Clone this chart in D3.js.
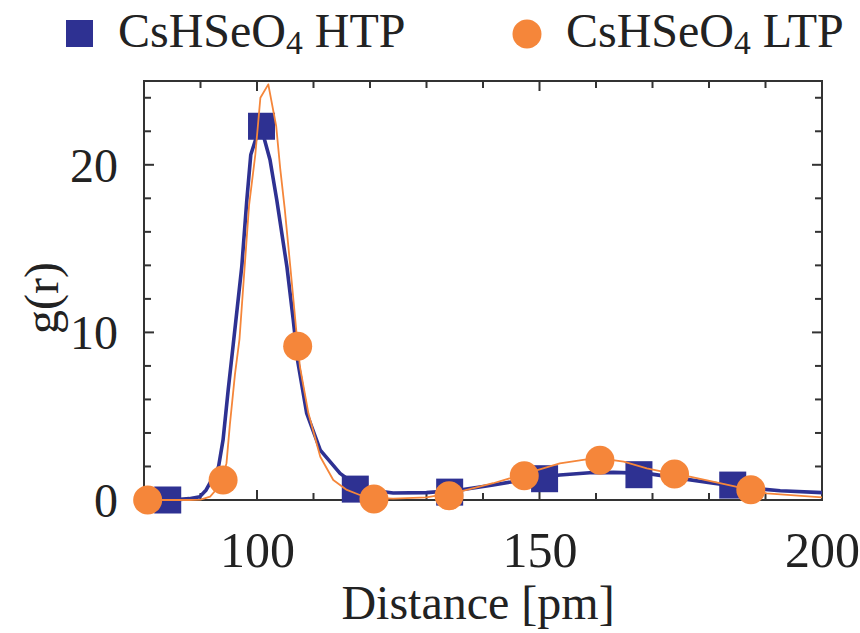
<!DOCTYPE html>
<html>
<head>
<meta charset="utf-8">
<script src="https://cdn.jsdelivr.net/npm/d3@7"></script>
<style>
  html, body { margin: 0; padding: 0; background: #fff; }
  svg { display: block; }
  text { font-family: "Liberation Serif", "DejaVu Serif", serif; fill: #222; }
</style>
</head>
<body>
<svg id="chart" width="860" height="633"></svg>
<script>
// ---- data ----
const seriesNames = ["CsHSeO4 HTP", "CsHSeO4 LTP"];

// HTP (blue) curve
const htpLineX = [80, 84, 86.4, 88, 89.9, 91, 92.3, 93.2, 94.0, 94.9, 95.8, 97.3, 98.2, 98.9, 100.6, 102.3, 103.5, 105.3, 106.4, 107.2, 108.8, 111.2, 114.7, 117.5, 120, 124.1, 130, 135.9, 141.8, 147.7, 153.6, 158.9, 163.1, 169.0, 174.9, 180.8, 186.7, 192.6, 200];
const htpLineY = [0, 0, 0.04, 0.08, 0.2, 0.6, 1.39, 2.0, 3.6, 6.56, 9.3, 13.9, 17.9, 20.6, 22.4, 20.3, 17.9, 13.9, 10.8, 8.3, 5.17, 2.98, 1.59, 0.9, 0.6, 0.42, 0.44, 0.6, 0.9, 1.23, 1.49, 1.63, 1.65, 1.59, 1.29, 1.0, 0.73, 0.55, 0.44];
// HTP markers
const htpPointX = [84.2, 100.8, 117.4, 134.1, 150.9, 167.6, 184.2];
const htpPointY = [0.0, 22.3, 0.65, 0.47, 1.27, 1.51, 0.89];

// LTP (orange) curve
const ltpLineX = [80, 88, 90, 91.7, 93.0, 94.0, 94.6, 95.2, 96.1, 96.9, 97.6, 98.6, 99.7, 100.6, 102.0, 103.4, 104.1, 104.9, 105.9, 107.0, 107.6, 109.1, 111.2, 113.5, 115.9, 118.2, 121, 124.1, 130, 135.9, 141.8, 147.7, 153.6, 158.9, 161, 164.9, 169.0, 173.9, 176.6, 181.9, 187.4, 190.2, 200];
const ltpLineY = [0, 0, 0.02, 0.2, 0.7, 1.4, 2.2, 4.5, 7.5, 9.6, 12.9, 17.6, 20.6, 24.0, 24.8, 22.3, 19.8, 17.4, 13.9, 9.95, 7.95, 5.17, 2.58, 1.19, 0.6, 0.3, 0.12, 0.08, 0.16, 0.5, 1.0, 1.59, 2.19, 2.45, 2.47, 2.29, 1.89, 1.55, 1.39, 1.0, 0.61, 0.4, 0.16];
// LTP markers
const ltpPointX = [80.65, 94.0, 107.2, 120.7, 134.0, 147.3, 160.7, 173.9, 187.4];
const ltpPointY = [0.0, 1.19, 9.18, 0.06, 0.25, 1.44, 2.37, 1.55, 0.61];

const xTickLabels = [100, 150, 200];
const yTickLabels = [0, 10, 20];
const xLabel = "Distance [pm]";
const yLabel = "g(r)";

// ---- layout ----
const colors = { htp: "#2e3192", ltp: "#f5863a" };
const L = 144, R = 822, T = 81, B = 500;
const svg = d3.select("#chart");
const x = d3.scaleLinear().domain([80, 200]).range([L, R]);
const y = d3.scaleLinear().domain([0, 25]).range([B, T]);
const FS = 48;
const TFS = 50;

// frame
const axisColor = "#333";
svg.append("rect").attr("x", L).attr("y", T).attr("width", R - L).attr("height", B - T)
  .attr("fill", "none").attr("stroke", axisColor).attr("stroke-width", 2);

// ticks (inward, on all four sides)
const xt = d3.range(80, 201, 10);
const yt = d3.range(0, 25.01, 2);
function isMajorX(v) { return v % 50 === 0; }
function isMajorY(v) { return v % 10 === 0; }
const tg = svg.append("g").attr("stroke", axisColor).attr("stroke-width", 2);
xt.forEach(v => {
  const len = isMajorX(v) ? 10 : 7;
  tg.append("line").attr("x1", x(v)).attr("x2", x(v)).attr("y1", B).attr("y2", B - len);
  tg.append("line").attr("x1", x(v)).attr("x2", x(v)).attr("y1", T).attr("y2", T + len);
});
yt.forEach(v => {
  const len = isMajorY(v) ? 10 : 7;
  tg.append("line").attr("y1", y(v)).attr("y2", y(v)).attr("x1", L).attr("x2", L + len);
  tg.append("line").attr("y1", y(v)).attr("y2", y(v)).attr("x1", R).attr("x2", R - len);
});

// tick labels via d3 axes (lines hidden)
const xAxis = d3.axisBottom(x).tickValues(xTickLabels).tickSize(0).tickPadding(0).tickFormat(d3.format("d"));
const gx = svg.append("g").attr("transform", `translate(0,${B})`).call(xAxis);
gx.select(".domain").remove();
gx.selectAll("text").attr("font-size", TFS).attr("dy", null).attr("y", 67)
  .attr("font-family", "Liberation Serif").attr("fill", "#222");

const yAxis = d3.axisLeft(y).tickValues(yTickLabels).tickSize(0).tickPadding(0).tickFormat(d3.format("d"));
const gy = svg.append("g").attr("transform", `translate(${L - 26},0)`).call(yAxis);
gy.select(".domain").remove();
gy.selectAll("text").attr("font-size", FS).attr("dy", "0.34em")
  .attr("font-family", "Liberation Serif").attr("fill", "#222");

// axis titles
svg.append("text").attr("x", 478).attr("y", 619).attr("text-anchor", "middle")
  .attr("font-size", FS).text(xLabel);
svg.append("text").attr("transform", `translate(58,298) rotate(-90)`)
  .attr("text-anchor", "middle").attr("font-size", FS).text(yLabel);

// curves
const line = d3.line().x(d => x(d[0])).y(d => y(d[1]));
const htpLine = d3.zip(htpLineX, htpLineY);
const ltpLine = d3.zip(ltpLineX, ltpLineY);
const SQ = 27, CR = 14.5;

svg.append("path").datum(htpLine).attr("d", line).attr("fill", "none")
  .attr("stroke", colors.htp).attr("stroke-width", 3.6).attr("stroke-linejoin", "round");

svg.append("g").selectAll("rect").data(d3.zip(htpPointX, htpPointY)).join("rect")
  .attr("x", d => x(d[0]) - SQ / 2).attr("y", d => y(d[1]) - SQ / 2)
  .attr("width", SQ).attr("height", SQ).attr("fill", colors.htp);

svg.append("path").datum(ltpLine).attr("d", line).attr("fill", "none")
  .attr("stroke", colors.ltp).attr("stroke-width", 1.8).attr("stroke-linejoin", "round");

svg.append("g").selectAll("circle").data(d3.zip(ltpPointX, ltpPointY)).join("circle")
  .attr("cx", d => x(d[0])).attr("cy", d => y(d[1])).attr("r", CR).attr("fill", colors.ltp);

// legend
function legendText(xp, base, suffix) {
  const t = svg.append("text").attr("x", xp).attr("y", 47).attr("font-size", FS);
  t.append("tspan").text(base);
  t.append("tspan").attr("font-size", FS * 0.7).attr("dy", 7).text("4");
  t.append("tspan").attr("dy", -7).text(" " + suffix);
}
svg.append("rect").attr("x", 66).attr("y", 20).attr("width", SQ).attr("height", SQ).attr("fill", colors.htp);
legendText(118, "CsHSeO", seriesNames[0].split(" ")[1]);
svg.append("circle").attr("cx", 527).attr("cy", 34).attr("r", CR).attr("fill", colors.ltp);
legendText(566, "CsHSeO", seriesNames[1].split(" ")[1]);
</script>
</body>
</html>
